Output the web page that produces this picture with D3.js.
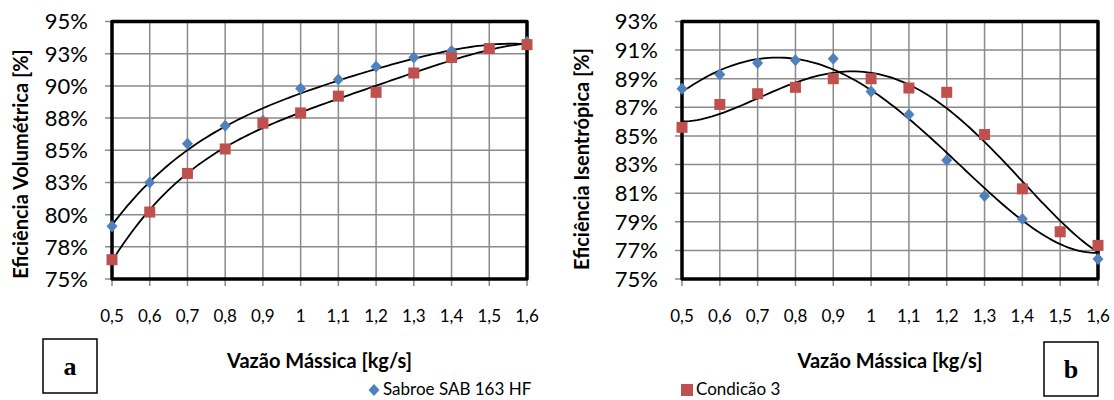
<!DOCTYPE html>
<meta charset="utf-8">
<html>
  <head>
    <title>Eficiências</title>
    <script src="https://d3js.org/d3.v7.min.js"></script>
    <style>
      body { margin: 0; background: white; }
      text { font-family: Lato, "Open Sans", sans-serif; fill: #000; }
    </style>
  </head>
  <body>
    <div id="chart"></div>
    <script type="text/javascript">

        // vazão mássica [kg/s]
        var vazao = [0.5, 0.6, 0.7, 0.8, 0.9, 1.0, 1.1, 1.2, 1.3, 1.4, 1.5, 1.6];
        var xTickLabels = ["0,5", "0,6", "0,7", "0,8", "0,9", "1", "1,1", "1,2", "1,3", "1,4", "1,5", "1,6"];

        // (a) eficiência volumétrica [%]
        var volSabroe = [79.1, 82.5, 85.5, 86.9, 87.3, 89.8, 90.5, 91.5, 92.2, 92.7, 92.9, 93.4];
        var volCond3  = [76.5, 80.2, 83.2, 85.1, 87.1, 87.9, 89.2, 89.5, 91.0, 92.2, 92.9, 93.2];
        var volTicks = [75, 77.5, 80, 82.5, 85, 87.5, 90, 92.5, 95];
        var volTickLabels = ["75%", "78%", "80%", "83%", "85%", "88%", "90%", "93%", "95%"];

        // (b) eficiência isentrópica [%]
        var isoSabroe = [88.3, 89.3, 90.1, 90.3, 90.4, 88.1, 86.5, 83.3, 80.8, 79.2, 78.3, 76.4];
        var isoCond3  = [85.6, 87.2, 87.95, 88.4, 89.0, 89.0, 88.35, 88.05, 85.1, 81.3, 78.3, 77.35];
        var isoTicks = [75, 77, 79, 81, 83, 85, 87, 89, 91, 93];
        var isoTickLabels = ["75%", "77%", "79%", "81%", "83%", "85%", "87%", "89%", "91%", "93%"];

        var seriesNames = ["Sabroe SAB 163 HF", "Condicão 3"];
        var blue = "#4f81bd", red = "#c0504d";

        var width = 1114, height = 400;
        var svg = d3.select("#chart").append("svg")
            .attr("width", width)
            .attr("height", height);

        // least squares polynomial (like the excel trendline)
        function polyfit(xs, ys, order){
            var n = order + 1, A = [], i, j, k;
            for (i = 0; i < n; i++){
                A.push([]);
                for (j = 0; j < n; j++){
                    A[i].push(d3.sum(xs, function(x){ return Math.pow(x, i + j); }));
                }
                A[i].push(d3.sum(xs, function(x, m){ return Math.pow(x, i) * ys[m]; }));
            }
            for (i = 0; i < n; i++){
                var p = i;
                for (k = i + 1; k < n; k++) if (Math.abs(A[k][i]) > Math.abs(A[p][i])) p = k;
                var t = A[i]; A[i] = A[p]; A[p] = t;
                for (k = i + 1; k < n; k++){
                    var f = A[k][i] / A[i][i];
                    for (j = i; j <= n; j++) A[k][j] -= f * A[i][j];
                }
            }
            var c = new Array(n).fill(0);
            for (i = n - 1; i >= 0; i--){
                var s = A[i][n];
                for (j = i + 1; j < n; j++) s -= A[i][j] * c[j];
                c[i] = s / A[i][i];
            }
            return function(x){ return d3.sum(c, function(cc, m){ return cc * Math.pow(x, m); }); };
        }

        function drawChart(cfg){
            var g = svg.append("g");

            var x = d3.scaleLinear().domain([0.5, 1.6]).range([cfg.left, cfg.right]);
            var y = d3.scaleLinear().domain(cfg.domain).range([279, 21.5]);

            // grid
            g.append("g").selectAll("line.v")
                .data(vazao).enter().append("line")
                .attr("x1", function(d){ return x(d); }).attr("x2", function(d){ return x(d); })
                .attr("y1", y.range()[1]).attr("y2", y.range()[0] + 7)
                .attr("stroke", "#8a8a8a").attr("stroke-width", 1.5);
            g.append("g").selectAll("line.h")
                .data(cfg.ticks).enter().append("line")
                .attr("x1", cfg.left - 7).attr("x2", cfg.right)
                .attr("y1", function(d){ return y(d); }).attr("y2", function(d){ return y(d); })
                .attr("stroke", "#8a8a8a").attr("stroke-width", 1.5);

            // plot border
            g.append("rect")
                .attr("x", cfg.left).attr("y", y.range()[1])
                .attr("width", cfg.right - cfg.left).attr("height", y.range()[0] - y.range()[1])
                .attr("fill", "none").attr("stroke", "#000").attr("stroke-width", 3.5)
                .attr("stroke-linejoin", "round");

            // tick labels
            g.append("g").selectAll("text")
                .data(cfg.ticks).enter().append("text")
                .attr("x", cfg.left - 24).attr("y", function(d){ return y(d); })
                .attr("dy", "0.36em").attr("text-anchor", "end")
                .style("font-size", "22px")
                .text(function(d, i){ return cfg.tickLabels[i]; });
            g.append("g").selectAll("text")
                .data(vazao).enter().append("text")
                .attr("x", function(d){ return x(d); }).attr("y", 322)
                .attr("text-anchor", "middle")
                .style("font-size", "17px")
                .text(function(d, i){ return xTickLabels[i]; });

            // titles
            g.append("text")
                .attr("x", (cfg.left + cfg.right) / 2).attr("y", 368)
                .attr("text-anchor", "middle")
                .style("font-size", "20px").style("font-weight", "bold")
                .text("Vazão Mássica [kg/s]");
            g.append("text")
                .attr("transform", "translate(" + cfg.titleX + "," + cfg.titleY + ") rotate(-90)")
                .attr("dy", "0.35em")
                .attr("text-anchor", "middle")
                .style("font-size", "20px").style("font-weight", "bold")
                .text(cfg.title);

            // trendlines
            var xs = d3.range(0, 111).map(function(i){ return 0.5 + i * 0.01; });
            cfg.series.forEach(function(s){
                var f = polyfit(vazao, s, cfg.order);
                g.append("path")
                    .attr("d", d3.line()
                        .x(function(d){ return x(d); })
                        .y(function(d){ return y(f(d)); })(xs))
                    .attr("fill", "none").attr("stroke", "#000").attr("stroke-width", 1.8);
            });

            // markers
            g.append("g").selectAll("path")
                .data(vazao).enter().append("path")
                .attr("d", "M0,-6L5.5,0L0,6L-5.5,0Z")
                .attr("transform", function(d, i){ return "translate(" + x(d) + "," + y(cfg.series[0][i]) + ")"; })
                .attr("fill", blue);
            g.append("g").selectAll("rect")
                .data(vazao).enter().append("rect")
                .attr("x", function(d){ return x(d) - 5.5; })
                .attr("y", function(d, i){ return y(cfg.series[1][i]) - 5.5; })
                .attr("width", 11).attr("height", 11)
                .attr("fill", red);

            // panel letter
            g.append("rect")
                .attr("x", cfg.boxX).attr("y", cfg.boxY)
                .attr("width", 54).attr("height", 54)
                .attr("fill", "white").attr("stroke", "#000").attr("stroke-width", 1.5);
            g.append("text")
                .attr("x", cfg.boxX + 27).attr("y", cfg.boxY + 36)
                .attr("text-anchor", "middle")
                .style("font-family", "'Liberation Serif', serif")
                .style("font-size", "26px").style("font-weight", "bold")
                .text(cfg.letter);
        }

        drawChart({
            left: 112, right: 527, domain: [75, 95],
            ticks: volTicks, tickLabels: volTickLabels,
            series: [volSabroe, volCond3], order: 4,
            title: "Eficiência Volumétrica [%]", titleX: 21, titleY: 164,
            letter: "a", boxX: 43, boxY: 339
        });
        drawChart({
            left: 682, right: 1098, domain: [75, 93],
            ticks: isoTicks, tickLabels: isoTickLabels,
            series: [isoSabroe, isoCond3], order: 4,
            title: "Eficiência Isentrópica [%]", titleX: 582, titleY: 159,
            letter: "b", boxX: 1044, boxY: 342
        });

        // legend
        var legend = svg.append("g");
        legend.append("path")
            .attr("d", "M0,-6L5.5,0L0,6L-5.5,0Z")
            .attr("transform", "translate(374,390)")
            .attr("fill", blue);
        legend.append("text")
            .attr("x", 383).attr("y", 395)
            .style("font-size", "17px")
            .text(seriesNames[0]);
        legend.append("rect")
            .attr("x", 681).attr("y", 384).attr("width", 12).attr("height", 12)
            .attr("fill", red);
        legend.append("text")
            .attr("x", 696).attr("y", 395)
            .style("font-size", "17px")
            .text(seriesNames[1]);

    </script>
  </body>
</html>
